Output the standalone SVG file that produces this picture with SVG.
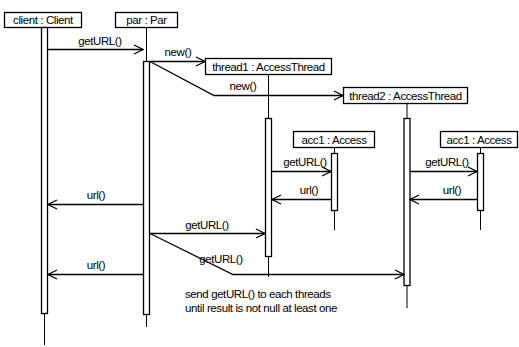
<svg xmlns="http://www.w3.org/2000/svg" width="519" height="347" viewBox="0 0 519 347">
<style>
.box{fill:#fff;stroke:#000;stroke-width:1.3}
.bar{fill:#fff;stroke:#000;stroke-width:1.3}
.life{stroke:#000;stroke-width:1;fill:none}
.msg{stroke:#000;stroke-width:1.3;fill:none}
text{font-family:"Liberation Sans",Arial,sans-serif;font-size:11.5px;fill:#000;letter-spacing:-0.4px}
.c{text-anchor:middle}
</style>
<defs>
<marker id="arr" markerWidth="11" markerHeight="11" refX="10" refY="5.5" orient="auto" markerUnits="userSpaceOnUse">
<path d="M1,1 L10,5.5 L1,10" fill="none" stroke="#000" stroke-width="1.2"/>
</marker>
</defs>
<rect width="519" height="347" fill="#fff"/>
<g id="client">
<rect class="box" x="4.5" y="12.5" width="77" height="15"/>
<text class="c" x="43" y="24">client : Client</text>
<line class="life" x1="44.5" y1="313" x2="44.5" y2="345"/>
<rect class="bar" x="41.5" y="27.5" width="6" height="286"/>
</g>
<g id="par">
<rect class="box" x="115.5" y="12.5" width="62" height="15"/>
<text class="c" x="146.5" y="24">par : Par</text>
<line class="life" x1="146.5" y1="27.5" x2="146.5" y2="61"/>
<line class="life" x1="146.5" y1="315" x2="146.5" y2="327"/>
<rect class="bar" x="143.5" y="61.5" width="6" height="253"/>
</g>
<g id="thread1">
<rect class="box" x="205.5" y="58.5" width="126" height="16"/>
<text class="c" x="268.5" y="70.5">thread1 : AccessThread</text>
<line class="life" x1="268.5" y1="75" x2="268.5" y2="118"/>
<line class="life" x1="268.5" y1="257" x2="268.5" y2="277"/>
<rect class="bar" x="265.5" y="118.5" width="6" height="138"/>
</g>
<g id="thread2">
<rect class="box" x="343.5" y="87.5" width="124" height="16"/>
<text class="c" x="405.5" y="99.5">thread2 : AccessThread</text>
<line class="life" x1="407" y1="103.5" x2="407" y2="118"/>
<line class="life" x1="407" y1="286" x2="407" y2="308"/>
<rect class="bar" x="404" y="118.5" width="6" height="167"/>
</g>
<g id="acc1a">
<rect class="box" x="293.5" y="131.5" width="81" height="16"/>
<text class="c" x="334" y="143.5">acc1 : Access</text>
<line class="life" x1="334.5" y1="147.5" x2="334.5" y2="153"/>
<line class="life" x1="334.5" y1="211" x2="334.5" y2="230"/>
<rect class="bar" x="331.5" y="153.5" width="6" height="57"/>
</g>
<g id="acc1b">
<rect class="box" x="440.5" y="131.5" width="77" height="16"/>
<text class="c" x="479" y="143.5">acc1 : Access</text>
<line class="life" x1="480.5" y1="147.5" x2="480.5" y2="153"/>
<line class="life" x1="480.5" y1="211" x2="480.5" y2="230"/>
<rect class="bar" x="477.5" y="153.5" width="6" height="57"/>
</g>
<g id="connectors">
<line class="msg" x1="48" y1="49.5" x2="143" y2="49.5" marker-end="url(#arr)"/>
<text class="c" x="100" y="45">getURL()</text>
<line class="msg" x1="150" y1="61.5" x2="205" y2="61.5" marker-end="url(#arr)"/>
<text class="c" x="178" y="56">new()</text>
<polyline class="msg" points="150,61.5 214,95.5 343,95.5" marker-end="url(#arr)"/>
<text class="c" x="243" y="90">new()</text>
<line class="msg" x1="272" y1="171.5" x2="331" y2="171.5" marker-end="url(#arr)"/>
<text class="c" x="305" y="166">getURL()</text>
<line class="msg" x1="331" y1="199.5" x2="272" y2="199.5" marker-end="url(#arr)"/>
<text class="c" x="309" y="194">url()</text>
<line class="msg" x1="410" y1="171.5" x2="477" y2="171.5" marker-end="url(#arr)"/>
<text class="c" x="447" y="166">getURL()</text>
<line class="msg" x1="477" y1="199.5" x2="410" y2="199.5" marker-end="url(#arr)"/>
<text class="c" x="452" y="194">url()</text>
<line class="msg" x1="143" y1="204.5" x2="48" y2="204.5" marker-end="url(#arr)"/>
<text class="c" x="96" y="199">url()</text>
<line class="msg" x1="150" y1="233.5" x2="265" y2="233.5" marker-end="url(#arr)"/>
<text class="c" x="207" y="229">getURL()</text>
<polyline class="msg" points="150,233.5 233,274.5 404,274.5" marker-end="url(#arr)"/>
<text class="c" x="221" y="263">getURL()</text>
<line class="msg" x1="143" y1="274.5" x2="48" y2="274.5" marker-end="url(#arr)"/>
<text class="c" x="96" y="269">url()</text>
</g>
<text x="185" y="298">send getURL() to each threads</text>
<text x="185" y="312">until result is not null at least one</text>
</svg>
